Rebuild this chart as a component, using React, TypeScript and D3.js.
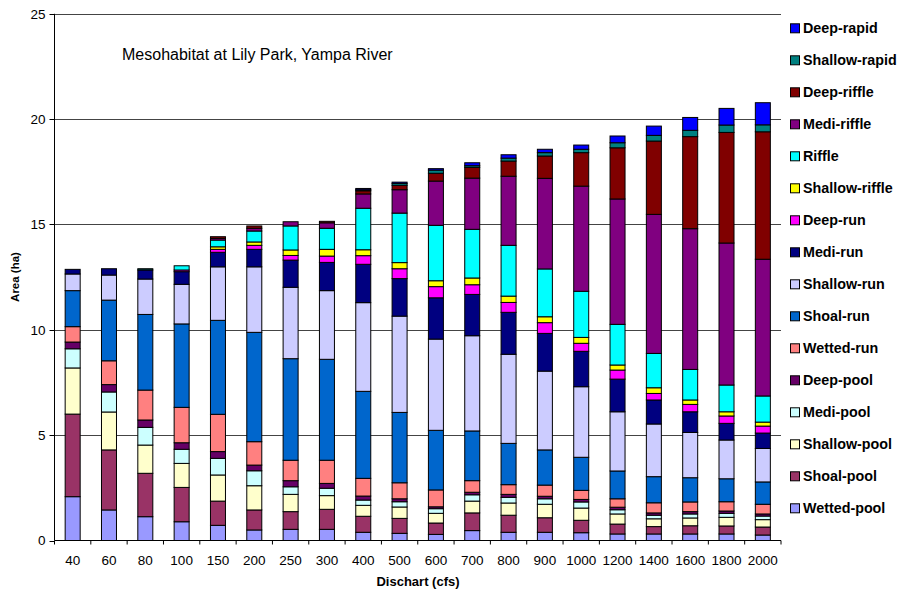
import React from "react";
import * as d3 from "d3";

const categories = ["40","60","80","100","150","200","250","300","400","500","600","700","800","900","1000","1200","1400","1600","1800","2000"];

const wettedPool   = [2.08,1.45,1.13,0.89,0.72,0.50,0.53,0.53,0.39,0.34,0.29,0.47,0.39,0.39,0.37,0.31,0.31,0.31,0.31,0.26];
const shoalPool    = [3.92,2.85,2.06,1.63,1.15,0.95,0.84,0.95,0.76,0.71,0.54,0.84,0.81,0.69,0.59,0.47,0.35,0.39,0.38,0.38];
const shallowPool  = [2.19,1.80,1.34,1.14,1.24,1.15,0.82,0.65,0.52,0.54,0.46,0.56,0.58,0.64,0.58,0.48,0.37,0.37,0.41,0.35];
const mediPool     = [0.91,0.95,0.84,0.67,0.79,0.71,0.36,0.35,0.25,0.25,0.22,0.30,0.27,0.26,0.29,0.20,0.17,0.19,0.19,0.17];
const deepPool     = [0.32,0.35,0.35,0.31,0.32,0.27,0.29,0.23,0.19,0.14,0.09,0.12,0.14,0.12,0.12,0.12,0.11,0.11,0.11,0.10];
const wettedRun    = [0.73,1.13,1.42,1.68,1.77,1.11,0.97,1.10,0.84,0.76,0.80,0.55,0.46,0.53,0.43,0.40,0.48,0.46,0.44,0.46];
const shoalRun     = [1.71,2.88,3.59,3.96,4.46,5.19,4.82,4.79,4.13,3.34,2.83,2.36,1.96,1.67,1.57,1.32,1.24,1.15,1.09,1.06];
const shallowRun   = [0.79,1.19,1.68,1.88,2.54,3.11,3.39,3.26,4.21,4.57,4.33,4.52,4.23,3.74,3.35,2.81,2.50,2.15,1.84,1.59];
const mediRun      = [0.22,0.30,0.43,0.60,0.69,0.83,1.29,1.34,1.82,1.78,1.96,1.96,1.99,1.79,1.68,1.55,1.14,0.98,0.79,0.73];
const deepRun      = [0,0,0,0.08,0.14,0.19,0.22,0.30,0.41,0.47,0.53,0.46,0.47,0.51,0.38,0.43,0.31,0.35,0.35,0.33];
const shallowRiffle= [0,0,0,0,0.12,0.16,0.26,0.32,0.28,0.29,0.28,0.32,0.30,0.28,0.28,0.24,0.27,0.21,0.20,0.19];
const riffle       = [0,0,0,0.20,0.32,0.52,1.14,1.00,1.97,2.35,2.63,2.31,2.41,2.27,2.19,1.93,1.63,1.45,1.27,1.24];
const mediRiffle   = [0,0,0,0,0.08,0.13,0.20,0.26,0.68,1.11,2.10,2.43,3.28,4.30,4.99,5.95,6.60,6.68,6.74,6.49];
const deepRiffle   = [0,0,0,0,0.08,0.11,0,0.07,0.15,0.21,0.37,0.51,0.72,1.06,1.59,2.43,3.48,4.37,5.25,6.05];
const shallowRapid = [0,0,0.06,0,0,0,0,0,0.05,0.09,0.15,0.08,0.14,0.16,0.16,0.24,0.27,0.30,0.35,0.33];
const deepRapid    = [0,0,0,0,0,0,0,0,0.06,0.06,0.07,0.14,0.16,0.16,0.20,0.32,0.44,0.61,0.79,1.05];

const seriesNames = ["Wetted-pool","Shoal-pool","Shallow-pool","Medi-pool","Deep-pool","Wetted-run","Shoal-run","Shallow-run","Medi-run","Deep-run","Shallow-riffle","Riffle","Medi-riffle","Deep-riffle","Shallow-rapid","Deep-rapid"];
const seriesValues = [wettedPool,shoalPool,shallowPool,mediPool,deepPool,wettedRun,shoalRun,shallowRun,mediRun,deepRun,shallowRiffle,riffle,mediRiffle,deepRiffle,shallowRapid,deepRapid];
const seriesColors = ["#9999FF","#993366","#FFFFCC","#CCFFFF","#660066","#FF8080","#0066CC","#CCCCFF","#000080","#FF00FF","#FFFF00","#00FFFF","#800080","#800000","#008080","#0000FF"];

const yTicks = [0,5,10,15,20,25];

const W = 901, H = 594;
const M = { left: 54.5, right: 781, top: 13.8, bottom: 540.5 };
const FONT = "Liberation Sans, Arial, sans-serif";

export default function App() {
  const xb = d3.scaleBand<string>().domain(categories).range([M.left, M.right]);
  const y = d3.scaleLinear().domain([0, 25]).range([M.bottom, M.top]);

  const table = categories.map((c, i) => {
    const row: any = { cat: c };
    seriesNames.forEach((s, k) => { row[s] = seriesValues[k][i]; });
    return row;
  });
  const stacked = d3.stack<any>().keys(seriesNames)(table);
  const bw = 15;

  return (
    <svg width={W} height={H} style={{ position: "absolute", left: 0, top: 0, background: "#fff" }} fontFamily={FONT}>
      {yTicks.filter(t => t > 0).map(t => (
        <line key={t} x1={M.left} x2={M.right} y1={Math.round(y(t)) + 0.5} y2={Math.round(y(t)) + 0.5} stroke="#444" strokeWidth={1} />
      ))}
      {stacked.map((layer, k) => (
        <g key={layer.key}>
          {layer.map((d, i) => {
            const h = y(d[0]) - y(d[1]);
            if (h <= 0.01) return null;
            const cx = (xb(categories[i]) as number) + xb.bandwidth() / 2;
            return (
              <rect key={i} x={cx - bw / 2} y={y(d[1])} width={bw} height={h}
                fill={seriesColors[k]} stroke="#000" strokeWidth={1} />
            );
          })}
        </g>
      ))}
      <line x1={M.left} x2={M.left} y1={M.top} y2={M.bottom} stroke="#000" />
      {yTicks.map(t => (
        <g key={t}>
          <line x1={M.left - 5} x2={M.left} y1={Math.round(y(t)) + 0.5} y2={Math.round(y(t)) + 0.5} stroke="#000" />
          <text x={M.left - 9} y={y(t)} dy="0.35em" textAnchor="end" fontSize={13.5} fill="#000">{t}</text>
        </g>
      ))}
      <line x1={M.left} x2={M.right} y1={M.bottom} y2={M.bottom} stroke="#000" />
      {categories.map(c => (
        <line key={"t" + c} x1={xb(c) as number} x2={xb(c) as number} y1={M.bottom} y2={M.bottom + 4} stroke="#000" />
      ))}
      <line x1={M.right} x2={M.right} y1={M.bottom} y2={M.bottom + 4} stroke="#000" />
      {categories.map(c => (
        <text key={"l" + c} x={(xb(c) as number) + xb.bandwidth() / 2} y={565} textAnchor="middle" fontSize={13.5} fill="#000">{c}</text>
      ))}
      <text x={418} y={586} textAnchor="middle" fontSize={13} fontWeight="bold" fill="#000">Dischart (cfs)</text>
      <text transform={`translate(19,${277}) rotate(-90)`} textAnchor="middle" fontSize={11.5} fontWeight="bold" fill="#000">Area (ha)</text>
      <text x={122} y={60} fontSize={16} fill="#000">Mesohabitat at Lily Park, Yampa River</text>
      {seriesNames.slice().reverse().map((s, j) => {
        const k = seriesNames.length - 1 - j;
        const cy = 28.3 + j * 32;
        return (
          <g key={s}>
            <rect x={790.5} y={cy - 4.5} width={9} height={9} fill={seriesColors[k]} stroke="#000" />
            <text x={803} y={cy} dy="0.35em" fontSize={14.3} fontWeight="bold" fill="#000">{s}</text>
          </g>
        );
      })}
    </svg>
  );
}
